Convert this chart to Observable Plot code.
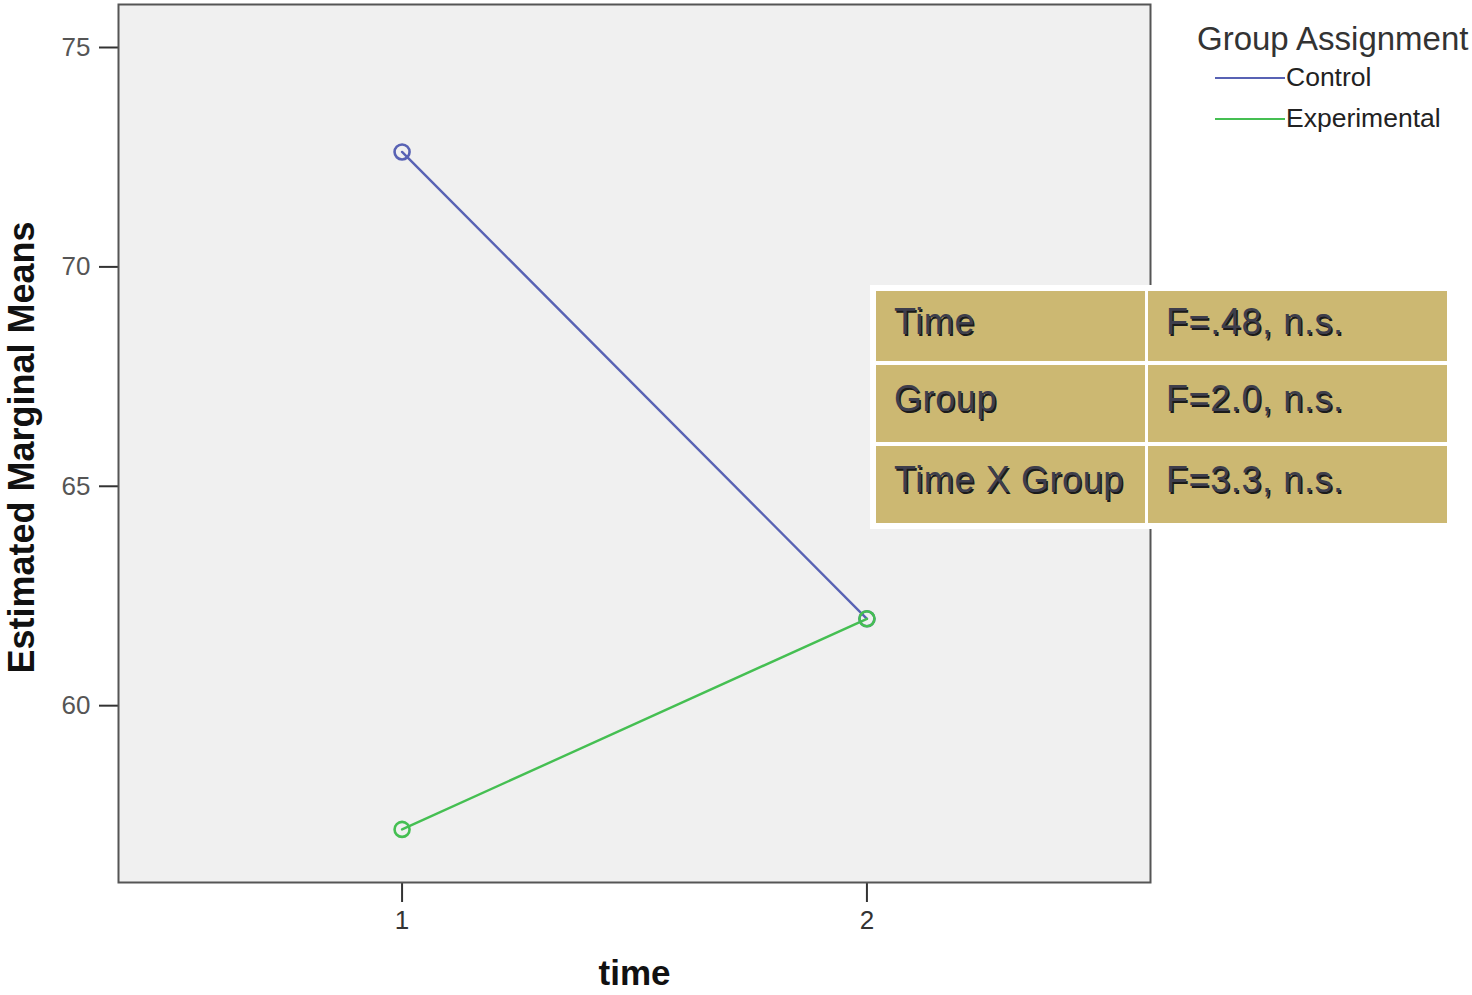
<!DOCTYPE html>
<html>
<head>
<meta charset="utf-8">
<script src="https://cdn.jsdelivr.net/npm/d3@7"></script>
<script src="https://cdn.jsdelivr.net/npm/@observablehq/plot@0.6"></script>
<style>
  html, body { margin: 0; padding: 0; background: #fff; }
  #wrap { position: relative; width: 1472px; height: 995px; font-family: "Liberation Sans", Arial, sans-serif; }
  #legend { position: absolute; left: 1197px; top: 21px; color: #222; }
  #legend .title { font-size: 33px; color: #333; white-space: nowrap; line-height: 36px; }
  #legend .item { display: flex; align-items: center; font-size: 26.5px; height: 41px; margin-left: 18px; }
  #legend .sw { width: 70px; height: 2px; margin-right: 1px; }
  #stats { position: absolute; left: 870px; top: 285px; background: #fff; padding: 6px; }
  #stats table { border-collapse: separate; border-spacing: 3px 4px; margin: -4px -3px; }
  #stats td { background: #ccb872; font-size: 36px; color: #3e3e4c; text-shadow: 1.5px 1.5px 0.5px #1a1a1a;
              letter-spacing: 0.6px; padding: 0 0 9px 18px; vertical-align: middle; white-space: nowrap;
              font-family: "Liberation Sans", Arial, sans-serif; }
</style>
</head>
<body>
<div id="wrap"></div>
<script>
const times = [1, 2];
const groups = ["Control", "Experimental"];
const controlMeans = [72.62, 61.98];
const experimentalMeans = [57.18, 61.98];
const groupColors = ["#5862b4", "#45bf52"];
const yTicks = [60, 65, 70, 75];
const xTicks = [1, 2];
const statEffects = ["Time", "Group", "Time X Group"];
const statValues = ["F=.48, n.s.", "F=2.0, n.s.", "F=3.3, n.s."];

const data = [];
times.forEach((t, i) => {
  data.push({time: t, group: groups[0], mean: controlMeans[i]});
  data.push({time: t, group: groups[1], mean: experimentalMeans[i]});
});

const chart = Plot.plot({
  width: 1472,
  height: 995,
  marginLeft: 118,
  marginRight: 322,
  marginTop: 4,
  marginBottom: 113,
  style: {fontFamily: "Liberation Sans, Arial, sans-serif", background: "#fff"},
  x: {domain: [0.39, 2.61]},
  y: {domain: [55.97, 75.98]},
  color: {domain: groups, range: groupColors},
  marks: [
    Plot.frame({fill: "#f0f0f0", stroke: "none"}),
    Plot.axisY({ticks: yTicks, tickSize: 19, tickPadding: 9, fontSize: 26, fill: "#555", stroke: "#333", strokeWidth: 2, label: null}),
    Plot.axisX({ticks: xTicks, tickFormat: "d", tickSize: 20, tickPadding: 8, fontSize: 26, fill: "#333", stroke: "#333", strokeWidth: 2, label: null}),
    Plot.line(data, {x: "time", y: "mean", z: "group", stroke: "group", strokeWidth: 2.4}),
    Plot.dot(data, {x: "time", y: "mean", stroke: "group", r: 7.5, strokeWidth: 2.6, fill: "none"}),
    Plot.frame({stroke: "#555", strokeWidth: 2}),
    Plot.text(["Estimated Marginal Means"], {frameAnchor: "left", textAnchor: "middle", dx: -96, dy: 4, rotate: -90, fontSize: 36, fontWeight: "bold", fill: "#111"}),
    Plot.text(["time"], {frameAnchor: "bottom", textAnchor: "middle", dy: 102, fontSize: 35, fontWeight: "bold", fill: "#111"})
  ]
});

const wrap = document.getElementById("wrap");
wrap.appendChild(chart);

// legend
const legend = document.createElement("div");
legend.id = "legend";
let lh = `<div class="title">Group Assignment</div>`;
groups.forEach((g, i) => {
  lh += `<div class="item"><span class="sw" style="background:${groupColors[i]}"></span><span>${g}</span></div>`;
});
legend.innerHTML = lh;
wrap.appendChild(legend);

// stats table
const stats = document.createElement("div");
stats.id = "stats";
const heights = [70, 77, 77];
let th = "<table>";
statEffects.forEach((e, i) => {
  th += `<tr style="height:${heights[i]}px"><td style="width:251px">${e}</td><td style="width:281px">${statValues[i]}</td></tr>`;
});
th += "</table>";
stats.innerHTML = th;
wrap.appendChild(stats);
</script>
</body>
</html>
